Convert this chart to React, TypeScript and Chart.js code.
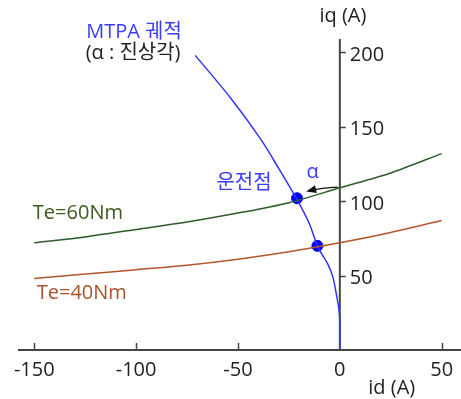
import React, { useEffect, useRef } from "react";
import { Chart, registerables } from "chart.js";
Chart.register(...registerables);

// Constant torque curves (id, iq)
const torqueId = [-150, -125, -100, -75, -50, -25, 0, 25, 50];
const te60Iq = [72, 76, 81, 86, 92, 99, 109, 119, 132];
const te40Iq = [48, 51, 54, 57, 61, 66, 72, 79, 87];
// MTPA trajectory
const mtpaId = [0, 0, -0.5, -1.5, -3.4, -6, -10.7, -15, -21, -30, -39, -54, -71];
const mtpaIq = [0, 20, 28, 36, 49, 58, 69, 85, 101, 122, 142, 170, 198];
// Operating points
const opId = [-21, -11];
const opIq = [102, 70];
// Ticks
const xTicks = [-150, -100, -50, 0, 50];
const yTicks = [50, 100, 150, 200];

const FONT = '"Open Sans", "Noto Sans CJK KR", sans-serif';
const BLUE_TXT = "#3c3cff";
const GREEN = "#2e5b2a";
const GREEN_TXT = "#3d5a1c";
const BROWN = "#b4552b";
const BROWN_TXT = "#a8532c";
const AXIS = "#444444";

const toPts = (xs: number[], ys: number[]) => xs.map((x, i) => ({ x, y: ys[i] }));

export default function App() {
  const ref = useRef<HTMLCanvasElement | null>(null);
  useEffect(() => {
    document.body.style.margin = "0";
    const canvas = ref.current!;
    const axesPlugin = {
      id: "customAxes",
      beforeDatasetsDraw(chart: any) {
        const ctx = chart.ctx;
        const xs = chart.scales.x;
        const ys = chart.scales.y;
        const ca = chart.chartArea;
        const x0 = xs.getPixelForValue(0);
        const y0 = ys.getPixelForValue(0);
        ctx.save();
        ctx.strokeStyle = AXIS;
        ctx.lineWidth = 2;
        ctx.beginPath();
        ctx.moveTo(ca.left - 2, y0);
        ctx.lineTo(ca.right + 1, y0);
        ctx.moveTo(x0, y0);
        ctx.lineTo(x0, ca.top);
        ctx.stroke();
        ctx.lineWidth = 1.5;
        ctx.beginPath();
        for (const t of xTicks) {
          if (t === 0) continue;
          const px = Math.round(xs.getPixelForValue(t)) + 0.5;
          ctx.moveTo(px, y0);
          ctx.lineTo(px, y0 - 7);
        }
        for (const t of yTicks) {
          const py = Math.round(ys.getPixelForValue(t)) + 0.5;
          ctx.moveTo(x0, py);
          ctx.lineTo(x0 + 6, py);
        }
        ctx.stroke();
        ctx.fillStyle = "#222";
        ctx.font = `20px ${FONT}`;
        ctx.textAlign = "center";
        ctx.textBaseline = "middle";
        for (const t of xTicks) {
          ctx.fillText(String(t), xs.getPixelForValue(t), y0 + 20);
        }
        ctx.textAlign = "left";
        for (const t of yTicks) {
          ctx.fillText(String(t), x0 + 10, ys.getPixelForValue(t) + 3);
        }
        ctx.restore();
      },
      afterDatasetsDraw(chart: any) {
        const ctx = chart.ctx;
        const xs = chart.scales.x;
        const ys = chart.scales.y;
        const P = (x: number, y: number) => [xs.getPixelForValue(x), ys.getPixelForValue(y)];
        ctx.save();
        ctx.font = `20px ${FONT}`;
        ctx.textBaseline = "middle";
        const txt = (s: string, x: number, y: number, color: string, align: CanvasTextAlign = "center") => {
          const [px, py] = P(x, y);
          ctx.fillStyle = color;
          ctx.textAlign = align;
          ctx.fillText(s, px, py);
        };
        txt("iq (A)", 1.5, 224.5, "#222");
        txt("id (A)", 25.5, -25.5, "#222");
        txt("MTPA 궤적", -101, 213.7, BLUE_TXT);
        txt("(α : 진상각)", -101.5, 199.6, "#222");
        txt("운전점", -47, 112, BLUE_TXT);
        txt("α", -13.3, 119.6, BLUE_TXT);
        txt("Te=60Nm", -150.7, 92, GREEN_TXT, "left");
        txt("Te=40Nm", -148.8, 38.3, BROWN_TXT, "left");

        // arrow from torque curve at iq axis to operating point
        const [sx, sy] = P(-1, 109.5);
        const [ex, ey] = P(-16.5, 106.5);
        const [cx, cy] = P(-9, 109);
        ctx.strokeStyle = "#111";
        ctx.fillStyle = "#111";
        ctx.lineWidth = 1.3;
        ctx.beginPath();
        ctx.moveTo(sx, sy);
        ctx.quadraticCurveTo(cx, cy, ex + 4, ey - 1);
        ctx.stroke();
        const ang = Math.atan2(ey - cy, ex - cx);
        const L = 10, W = 4;
        ctx.beginPath();
        ctx.moveTo(ex, ey);
        ctx.lineTo(ex - L * Math.cos(ang) + W * Math.sin(ang), ey - L * Math.sin(ang) - W * Math.cos(ang));
        ctx.lineTo(ex - L * Math.cos(ang) - W * Math.sin(ang), ey - L * Math.sin(ang) + W * Math.cos(ang));
        ctx.closePath();
        ctx.fill();
        ctx.restore();
      },
    };

    const chart = new Chart(canvas, {
      type: "scatter",
      data: {
        datasets: [
          {
            label: "Te=60Nm",
            data: toPts(torqueId, te60Iq),
            showLine: true,
            borderColor: GREEN,
            borderWidth: 1.5,
            pointRadius: 0,
            tension: 0.3,
          },
          {
            label: "Te=40Nm",
            data: toPts(torqueId, te40Iq),
            showLine: true,
            borderColor: BROWN,
            borderWidth: 1.5,
            pointRadius: 0,
            tension: 0.3,
          },
          {
            label: "MTPA",
            data: toPts(mtpaId, mtpaIq),
            showLine: true,
            borderColor: "#3434ff",
            borderWidth: 1.5,
            pointRadius: 0,
            tension: 0.3,
          },
          {
            label: "운전점",
            data: toPts(opId, opIq),
            showLine: false,
            backgroundColor: "#0000ff",
            borderColor: "#0000ff",
            pointRadius: 5.5,
          },
        ],
      },
      options: {
        animation: false,
        responsive: false,
        layout: { autoPadding: false, padding: { left: 20, right: 1, top: 39, bottom: 49 } },
        plugins: { legend: { display: false }, tooltip: { enabled: false } },
        scales: {
          x: { type: "linear", min: -157, max: 59, display: false },
          y: { type: "linear", min: 0, max: 209, display: false },
        },
      },
      plugins: [axesPlugin],
    });
    return () => chart.destroy();
  }, []);
  return (
    <div style={{ width: 461, height: 399 }}>
      <canvas ref={ref} width={461} height={399} />
    </div>
  );
}
